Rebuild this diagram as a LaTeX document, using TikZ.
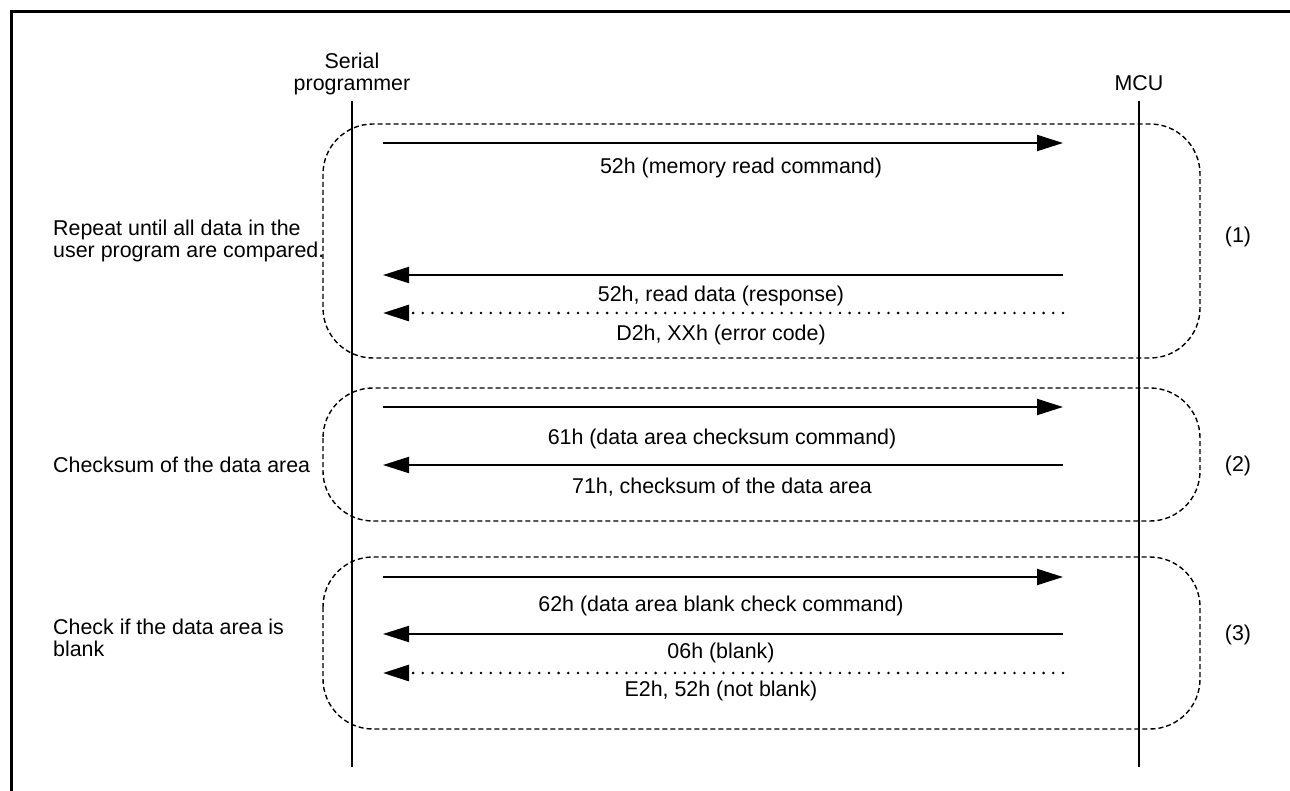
\documentclass[tikz,border=0pt]{standalone}
\usepackage{fontspec}
\setmainfont{Liberation Sans}
\usetikzlibrary{arrows.meta}
\tikzset{
  lbl/.style={inner sep=0pt, font=\fontsize{21.4}{21.4}\selectfont},
  lifeline/.style={line width=1.6pt},
  frameline/.style={line width=3pt},
  phase/.style={line width=1.4pt, dash pattern=on 5pt off 3pt, rounded corners=50pt},
  msg/.style={line width=2pt, -{Triangle[length=26pt,width=16pt]}},
  altmsg/.style={line width=2.8pt, line cap=round, dash pattern=on 0pt off 9.7pt, -{Triangle[length=26pt,width=16pt]}},
}
\begin{document}
\begin{tikzpicture}[x=1pt,y=-1pt]
\useasboundingbox (0,0) rectangle (1290,791);
% frame
\draw[frameline] (11,791) -- (11,12) -- (1290,12);
% headers
\node[lbl, align=center, anchor=north] (sp) at (352,53) {Serial\\programmer};
\node[lbl, anchor=base] (mcu) at (1139,91) {MCU};
% lifelines
\coordinate (spT) at (352,101); \coordinate (spB) at (352,767);
\coordinate (mcT) at (1139,101); \coordinate (mcB) at (1139,767);
\draw[lifeline] (spT) -- (spB);
\draw[lifeline] (mcT) -- (mcB);
% phase boxes
\draw[phase] (323,124) rectangle (1200,358);
\draw[phase] (323,388) rectangle (1200,521);
\draw[phase] (323,557) rectangle (1200,729);
% message end points
\foreach \n/\y in {a/143,b/275,c/313,d/407,e/465,f/577,g/634,h/673}{
  \coordinate (L\n) at (383,\y);
  \coordinate (R\n) at (1063,\y);
}
\draw[msg] (La) -- (Ra);
\draw[msg] (Rb) -- (Lb);
\draw[altmsg] (Rc) -- (Lc);
\draw[msg] (Ld) -- (Rd);
\draw[msg] (Re) -- (Le);
\draw[msg] (Lf) -- (Rf);
\draw[msg] (Rg) -- (Lg);
\draw[altmsg] (Rh) -- (Lh);
% message labels
\node[lbl, anchor=base] (ta) at (741,174) {52h (memory read command)};
\node[lbl, anchor=base] (tb) at (721,302) {52h, read data (response)};
\node[lbl, anchor=base] (tc) at (721,341) {D2h, XXh (error code)};
\node[lbl, anchor=base] (td) at (722,444) {61h (data area checksum command)};
\node[lbl, anchor=base] (te) at (722,493) {71h, checksum of the data area};
\node[lbl, anchor=base] (tf) at (721,611) {62h (data area blank check command)};
\node[lbl, anchor=base] (tg) at (721,658) {06h (blank)};
\node[lbl, anchor=base] (th) at (721,696) {E2h, 52h (not blank)};
% left descriptions
\node[lbl, align=left, anchor=north west] (d1) at (53,220) {Repeat until all data in the\\user program are compared.};
\node[lbl, anchor=base west] (d2) at (53,472) {Checksum of the data area};
\node[lbl, align=left, anchor=north west] (d3) at (53,619) {Check if the data area is\\blank};
% phase numbers
\node[lbl, anchor=base] (n1) at (1238,243) {(1)};
\node[lbl, anchor=base] (n2) at (1238,471) {(2)};
\node[lbl, anchor=base] (n3) at (1238,640) {(3)};
\end{tikzpicture}
\end{document}
